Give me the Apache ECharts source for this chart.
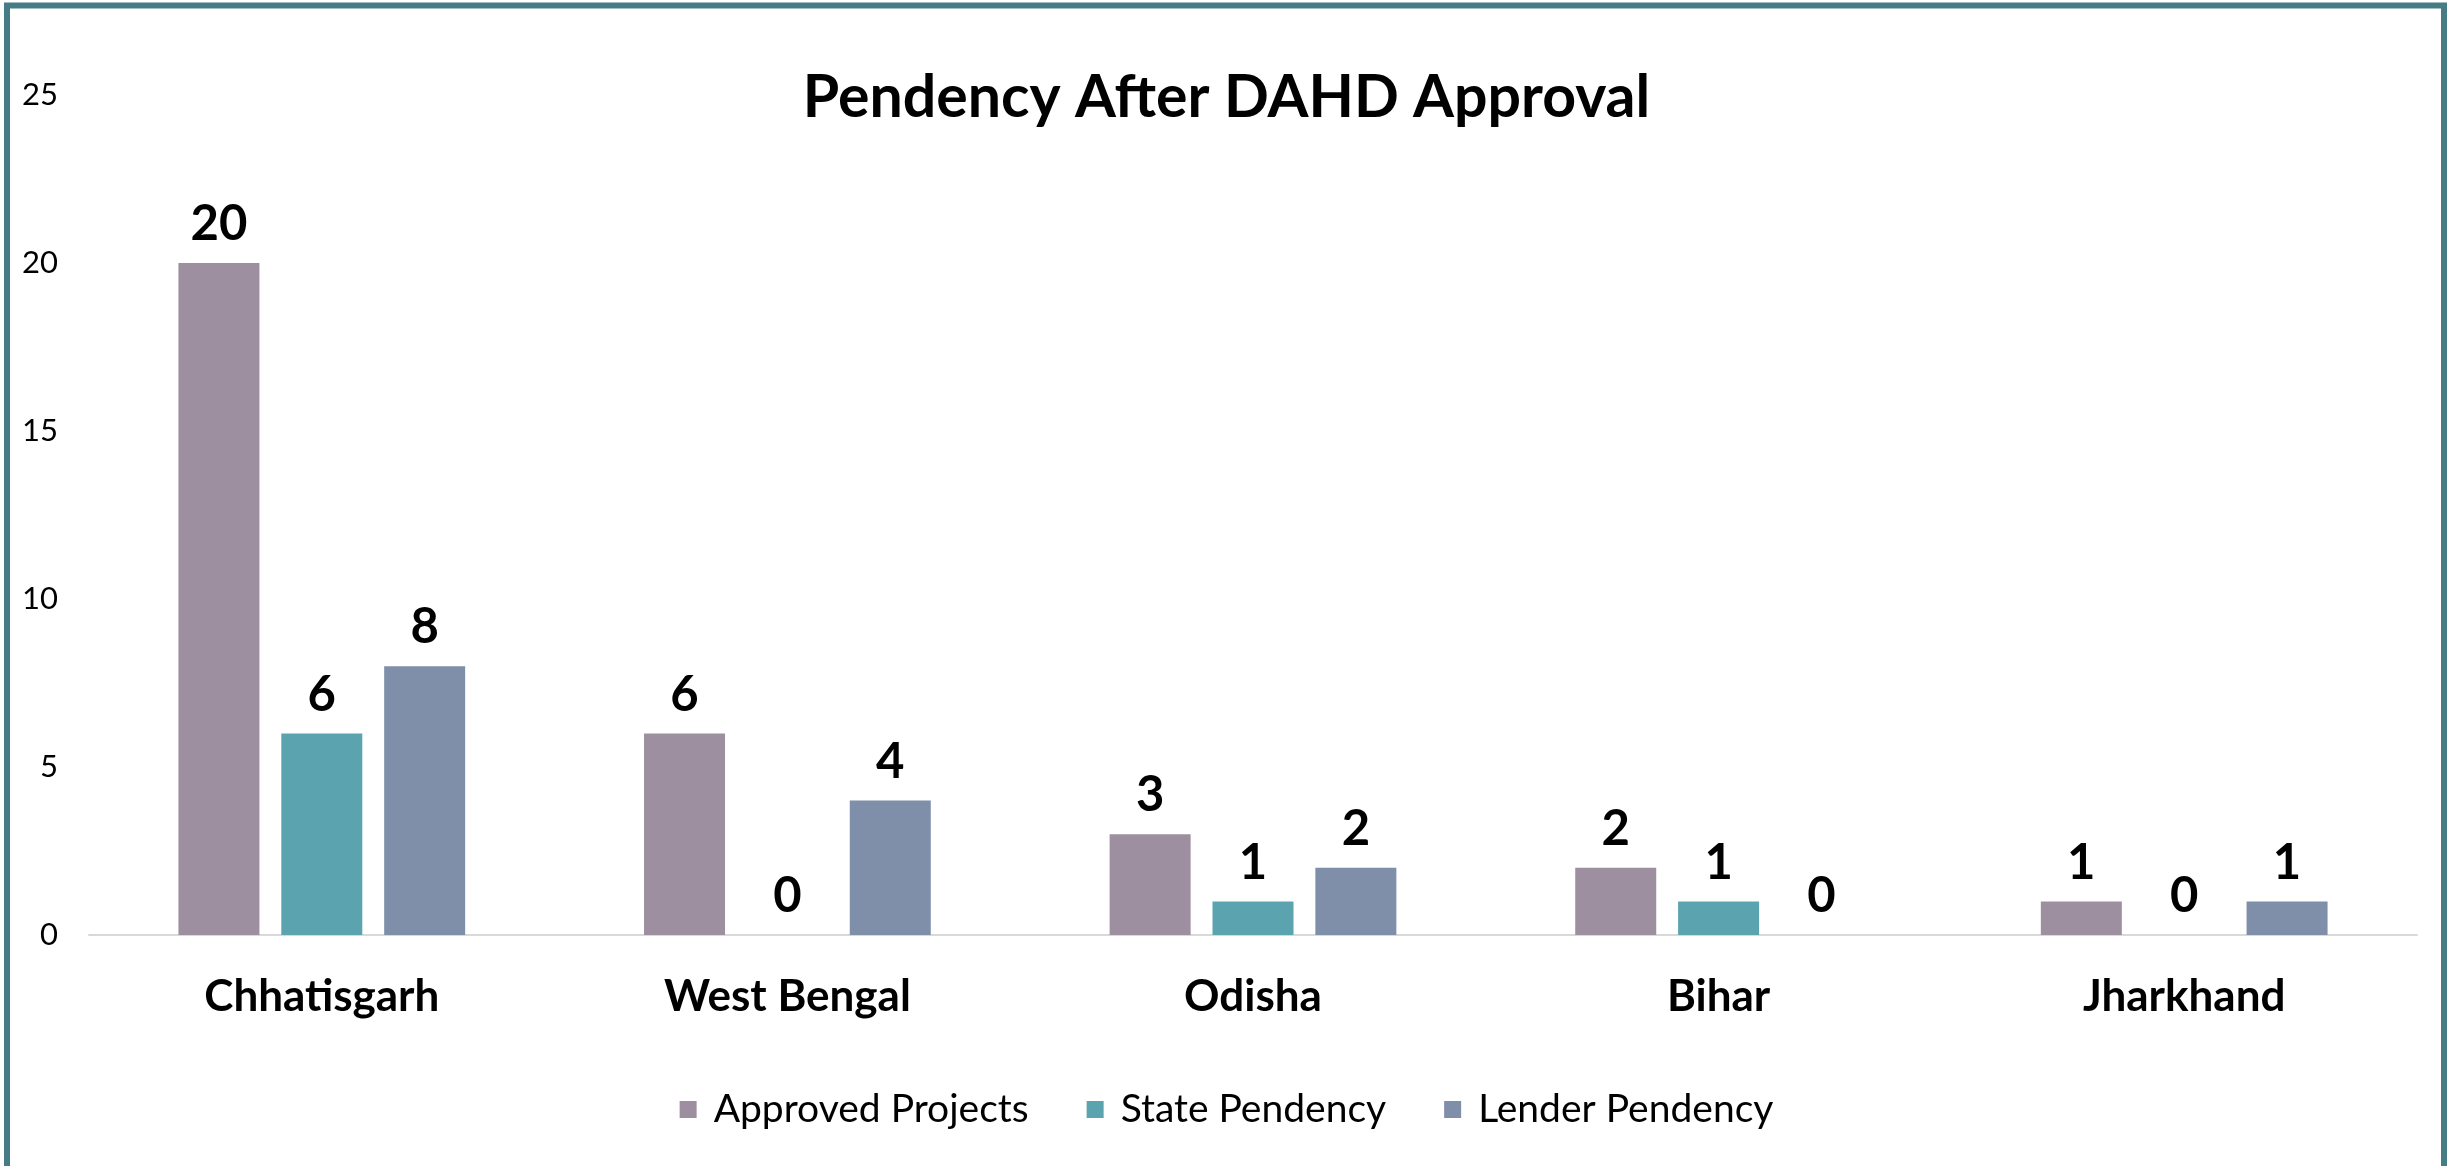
<!DOCTYPE html>
<html>
<head>
<meta charset="utf-8">
<script src="https://cdn.jsdelivr.net/npm/echarts@6/dist/echarts.min.js"></script>
<style>
  html, body { margin: 0; padding: 0; background: #fff; }
  #main { width: 2453px; height: 1166px; }
</style>
</head>
<body>
<div id="main"></div>
<script>
// data
var states = ['Chhatisgarh', 'West Bengal', 'Odisha', 'Bihar', 'Jharkhand'];
var approvedProjects = [20, 6, 3, 2, 1];
var statePendency = [6, 0, 1, 1, 0];
var lenderPendency = [8, 4, 2, 0, 1];
var seriesNames = ['Approved Projects', 'State Pendency', 'Lender Pendency'];
var colors = ['#9d8f9f', '#5ba3ae', '#7f8ea9'];

var font = 'Lato';

var chartDom = document.getElementById('main');
var myChart = echarts.init(chartDom);

function barSeries(name, values, color) {
  return {
    name: name,
    type: 'bar',
    data: values,
    barWidth: 81,
    barGap: '27%',
    itemStyle: { color: color },
    label: {
      show: true,
      position: 'top',
      distance: 14,
      color: '#000',
      fontFamily: font,
      fontWeight: 'bold',
      fontSize: 49
    }
  };
}

var option = {
  animation: false,
  backgroundColor: '#fff',
  title: {
    text: 'Pendency After DAHD Approval',
    left: 'center',
    top: 68,
    padding: 0,
    textStyle: {
      fontFamily: font,
      fontWeight: 'bold',
      fontSize: 59,
      color: '#000'
    }
  },
  // outer frame
  graphic: [{
    type: 'rect',
    shape: { x: 7, y: 5.5, width: 2437, height: 1220 },
    style: { fill: 'none', stroke: '#467c86', lineWidth: 6 },
    silent: true
  }],
  legend: {
    data: seriesNames,
    left: 'center',
    top: 1085,
    itemWidth: 17,
    itemHeight: 17,
    itemGap: 58,
    icon: 'rect',
    textStyle: {
      fontFamily: font,
      fontSize: 39,
      color: '#000',
      padding: [0, 0, 0, 12]
    }
  },
  grid: {
    left: 89,
    right: 36,
    top: 95,
    bottom: 231
  },
  xAxis: {
    type: 'category',
    data: states,
    axisLine: { lineStyle: { color: '#d9d9d9', width: 2 } },
    axisTick: { show: false },
    axisLabel: {
      margin: 40,
      color: '#000',
      fontFamily: font,
      fontWeight: 'bold',
      fontSize: 44
    }
  },
  yAxis: {
    type: 'value',
    min: 0,
    max: 25,
    interval: 5,
    splitLine: { show: false },
    axisLine: { show: false },
    axisTick: { show: false },
    axisLabel: {
      margin: 31,
      color: '#000',
      fontFamily: font,
      fontSize: 31
    }
  },
  series: [
    barSeries(seriesNames[0], approvedProjects, colors[0]),
    barSeries(seriesNames[1], statePendency, colors[1]),
    barSeries(seriesNames[2], lenderPendency, colors[2])
  ]
};

option && myChart.setOption(option);
</script>
</body>
</html>
